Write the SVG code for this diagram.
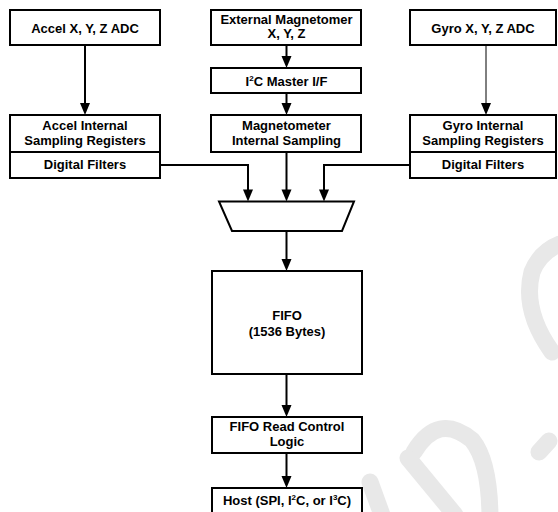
<svg xmlns="http://www.w3.org/2000/svg" width="558" height="512" viewBox="0 0 558 512">
<style>
.box{fill:#fff;stroke:#000;stroke-width:2}
.t{font-family:"Liberation Sans",Arial,sans-serif;font-weight:bold;font-size:13px;fill:#000;text-anchor:middle}
.c{fill:none;stroke:#000;stroke-width:2}
.thin{fill:none;stroke:#000;stroke-width:1}
.wm{fill:none;stroke:#e8e8e8;stroke-width:17;stroke-linecap:round}
</style>
<defs>
<marker id="ah" markerUnits="userSpaceOnUse" markerWidth="12" markerHeight="10" refX="6" refY="5" orient="auto" overflow="visible">
<path d="M0,0 L12,5 L0,10 Z" fill="#000"/>
</marker>
</defs>
<rect width="558" height="512" fill="#fff"/>
<g id="watermark">
<path class="wm" d="M552 352 Q522 310 532 272 Q540 252 560 244"/>
<path class="wm" d="M539 452 L549 441"/>
<path class="wm" d="M414 452 Q438 412 472 440 Q490 462 490 520"/>
<path class="wm" d="M408 458 L455 515"/>
<path class="wm" d="M370 482 L382 515"/>
</g>
<g id="connectors">
<line class="c" x1="85" y1="45" x2="85" y2="109" marker-end="url(#ah)"/>
<line class="c" x1="286.5" y1="45" x2="286.5" y2="62" marker-end="url(#ah)"/>
<line class="c" x1="286.5" y1="93" x2="286.5" y2="109" marker-end="url(#ah)"/>
<line class="thin" x1="486" y1="45" x2="486" y2="109" marker-end="url(#ah)"/>
<path class="c" d="M160 165 H248 V195.5" marker-end="url(#ah)"/>
<line class="c" x1="286.5" y1="152" x2="286.5" y2="195.5" marker-end="url(#ah)"/>
<path class="c" d="M410 165 H324 V195.5" marker-end="url(#ah)"/>
<line class="c" x1="286.5" y1="231" x2="286.5" y2="265" marker-end="url(#ah)"/>
<line class="c" x1="286.5" y1="374" x2="286.5" y2="411" marker-end="url(#ah)"/>
<line class="c" x1="286.5" y1="453" x2="286.5" y2="482" marker-end="url(#ah)"/>
</g>
<g id="accel-adc">
<rect class="box" x="10" y="10" width="150" height="35"/>
<text class="t" x="85" y="32.5">Accel X, Y, Z ADC</text>
</g>
<g id="ext-mag">
<rect class="box" x="211" y="10" width="150" height="35"/>
<text class="t" x="286.5" y="23.5">External Magnetomer</text>
<text class="t" x="286.5" y="38">X, Y, Z</text>
</g>
<g id="gyro-adc">
<rect class="box" x="410" y="10" width="146" height="35"/>
<text class="t" x="483" y="32.5">Gyro X, Y, Z ADC</text>
</g>
<g id="i2c-master">
<rect class="box" x="211" y="68" width="150" height="25"/>
<text class="t" x="286.5" y="86">I<tspan font-size="8" dy="-5">2</tspan><tspan dy="5">C Master I/F</tspan></text>
</g>
<g id="accel-internal">
<rect class="box" x="10" y="115" width="150" height="63"/>
<line class="c" x1="10" y1="152" x2="160" y2="152"/>
<text class="t" x="85" y="129.5">Accel Internal</text>
<text class="t" x="85" y="145">Sampling Registers</text>
<text class="t" x="85" y="168.5">Digital Filters</text>
</g>
<g id="mag-internal">
<rect class="box" x="211" y="115" width="150" height="37"/>
<text class="t" x="286.5" y="130">Magnetometer</text>
<text class="t" x="286.5" y="145">Internal Sampling</text>
</g>
<g id="gyro-internal">
<rect class="box" x="410" y="115" width="146" height="63"/>
<line class="c" x1="410" y1="152" x2="556" y2="152"/>
<text class="t" x="483" y="129.5">Gyro Internal</text>
<text class="t" x="483" y="145">Sampling Registers</text>
<text class="t" x="483" y="168.5">Digital Filters</text>
</g>
<g id="mux">
<polygon class="box" points="219,201.5 354,201.5 342,231 232,231"/>
</g>
<g id="fifo">
<rect class="box" x="212" y="271" width="150" height="103"/>
<text class="t" x="287" y="320">FIFO</text>
<text class="t" x="287" y="335.5">(1536 Bytes)</text>
</g>
<g id="fifo-read">
<rect class="box" x="212" y="417" width="150" height="36"/>
<text class="t" x="287" y="431">FIFO Read Control</text>
<text class="t" x="287" y="446">Logic</text>
</g>
<g id="host">
<rect class="box" x="212" y="488" width="150" height="30"/>
<text class="t" x="287" y="505">Host (SPI, I<tspan font-size="8" dy="-5">2</tspan><tspan dy="5">C, or I</tspan><tspan font-size="8" dy="-5">3</tspan><tspan dy="5">C)</tspan></text>
</g>
</svg>
